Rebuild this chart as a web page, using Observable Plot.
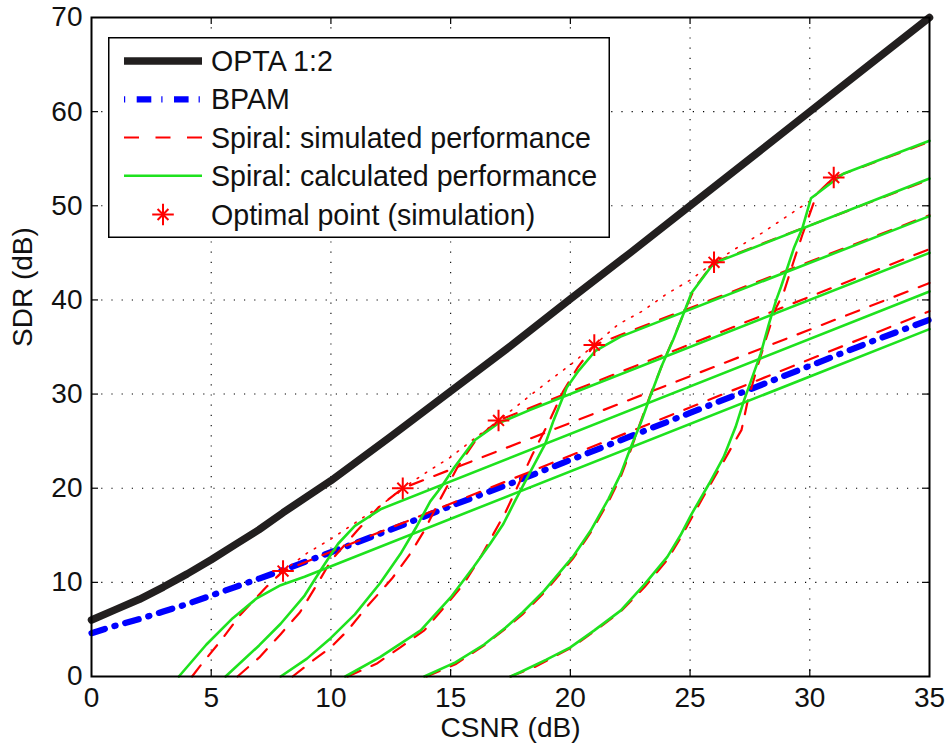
<!DOCTYPE html>
<html>
<head>
<meta charset="utf-8">
<script src="https://cdn.jsdelivr.net/npm/d3@7"></script>
<script src="https://cdn.jsdelivr.net/npm/@observablehq/plot@0.6"></script>
<style>
  body { margin: 0; background: #fff; }
  #wrap { position: relative; width: 949px; height: 749px; font-family: "Liberation Sans", Arial, sans-serif; }
  #legend { position: absolute; left: 108px; top: 37px; }
</style>
</head>
<body>
<div id="wrap"></div>
<script>
// ---- data ----
const xTicks = [0, 5, 10, 15, 20, 25, 30, 35];
const yTicks = [0, 10, 20, 30, 40, 50, 60, 70];

const optaCSNR = [0, 1, 2, 3, 4, 5, 6, 7, 8, 9, 10, 12.5, 15, 17.5, 20, 22.5, 25, 27.5, 30, 32.5, 35];
const optaSDR  = [6.0, 7.1, 8.2, 9.5, 10.9, 12.4, 14.0, 15.6, 17.4, 19.1, 20.8, 25.5, 30.3, 35.1, 40.1, 45.0, 50.0, 55.0, 60.0, 65.0, 70.0];

const bpamCSNR = [0, 1, 2, 3, 4, 5, 6, 7, 8, 10, 12.5, 15, 17.5, 20, 22.5, 25, 27.5, 30, 32.5, 35];
const bpamSDR  = [4.6, 5.4, 6.1, 6.9, 7.7, 8.6, 9.5, 10.4, 11.3, 13.2, 15.6, 18.1, 20.5, 23.0, 25.5, 28.0, 30.5, 33.0, 35.5, 37.9];

const calc1 = [[3.65,0],[4.8,3.4],[5.9,6.2],[6.9,8.3],[7.9,9.7],[8.9,10.6],[35,36.9]];
const calc2 = [[5.6,0],[7.0,3.3],[7.9,5.6],[8.9,8.6],[9.65,11.6],[10.3,14.1],[11.0,16.0],[12.1,17.8],[35,40.9]];
const calc3 = [[7.9,0],[9.0,1.9],[10.0,4.1],[11.0,6.6],[12.05,9.9],[12.9,13.0],[13.55,15.8],[14.15,18.6],[14.6,20.1],[15.15,22.2],[16.0,25.1],[17.0,26.9],[18.3,28.3],[35,45.0]];
const calc4 = [[10.6,0],[12.05,2.05],[13.75,4.9],[15.0,8.4],[15.95,11.6],[16.65,14.1],[17.2,16.2],[17.7,18.7],[18.3,21.6],[18.95,24.7],[19.3,27.2],[19.85,30.7],[20.35,32.5],[21.05,34.6],[22.1,36.1],[35,48.9]];
const calc5 = [[13.9,0],[15.2,1.5],[16.4,3.4],[17.3,5.2],[18.0,6.8],[18.9,9.1],[20.1,12.7],[20.85,15.5],[21.6,18.9],[22.1,21.5],[22.5,24.2],[22.95,27.0],[23.3,29.5],[23.8,32.9],[24.3,35.8],[24.75,38.7],[25.05,40.7],[25.9,43.6],[26.3,44.2],[35,52.9]];
const calc6 = [[17.5,0],[17.9,0.45],[19.0,1.8],[20.0,3.1],[21.0,4.9],[22.1,7.0],[23.07,9.7],[24.05,12.7],[24.6,15.0],[25.05,17.2],[25.8,20.5],[26.4,23.3],[26.9,26.5],[27.25,29.3],[27.6,31.8],[27.95,34.3],[28.3,37.5],[28.6,40.0],[28.8,41.4],[29.35,45.6],[29.7,47.7],[30.05,50.8],[31.4,53.4],[35,56.9]];

const sim1 = [[4.2,0],[4.5,1.0],[5.4,3.8],[6.2,6.5],[7.3,9.5],[8.0,11.2],[35,38.8]];
const sim2 = [[6.1,0],[7.0,2.0],[7.9,4.5],[8.7,6.8],[9.45,9.9],[10.0,12.3],[11.1,15.5],[12.0,18.0],[13.0,20.0],[35,41.8]];
const sim3 = [[8.4,0],[9.2,1.6],[10.0,3.1],[10.7,4.9],[11.5,7.4],[12.55,10.4],[13.3,13.0],[13.9,15.5],[14.6,19.0],[15.3,22.3],[16.1,25.3],[17.0,27.2],[35,45.4]];
const sim4 = [[10.7,0],[11.9,1.35],[12.9,3.1],[13.9,4.9],[14.85,7.7],[15.55,9.85],[16.25,12.7],[16.8,15.2],[17.3,17.5],[17.8,20.2],[18.4,23.5],[19.1,27.0],[19.7,30.3],[20.3,32.8],[21.0,35.2],[35,49.0]];
const sim5 = [[14.0,0],[15.2,1.3],[16.4,3.3],[17.3,5.1],[18.0,6.6],[18.9,8.9],[20.1,12.5],[20.85,15.3],[21.6,18.6],[22.1,21.2],[22.5,23.9],[22.9,26.8],[23.35,30.0],[23.9,33.5],[24.4,36.5],[24.85,39.3],[25.2,41.3],[26.0,44.0],[35,52.8]];
const sim6 = [[17.5,0],[18.5,1.0],[20.0,3.0],[21.0,4.8],[22.1,6.9],[23.1,9.5],[24.05,12.4],[24.6,14.7],[25.1,17.0],[25.8,20.2],[26.3,22.4],[26.9,25.1],[27.15,26.2],[27.4,29.2],[27.8,32.8],[28.2,36.1],[28.6,39.2],[28.9,40.7],[29.3,43.9],[29.7,47.0],[30.3,51.3],[31.0,53.0],[35,56.8]];

const envelope = [[8,11.2],[9,13.1],[10,14.6],[11,16.3],[12,18.0],[13,20.0],[14,21.7],[15,23.3],[16,25.3],[17,27.2],[18,29.2],[19,31.2],[20,33.1],[21,35.2],[22,37.4],[23,38.8],[24,40.6],[25,42.1],[26,44.0],[27,45.6],[28,47.1],[29,48.8],[30,50.5],[31,53.0]];

const optimalCSNR = [8, 13, 17, 21, 26, 31];
const optimalSDR  = [11.2, 20.0, 27.2, 35.2, 44.0, 53.0];

const legendLabels = ["OPTA 1:2", "BPAM", "Spiral: simulated performance", "Spiral: calculated performance", "Optimal point (simulation)"];

// ---- styles ----
const C_OPTA = "#221f1f", C_BPAM = "#0000ff", C_SIM = "#ff0000", C_CALC = "#1ee21e";
const FONT = "Liberation Sans, Arial, Helvetica, sans-serif";

// ---- tables built from the arrays ----
const optaRows = optaCSNR.map((x, i) => ({x, y: optaSDR[i]}));
const bpamRows = bpamCSNR.map((x, i) => ({x, y: bpamSDR[i]}));
const toRows = (arrs) => arrs.flatMap((a, k) => a.map(([x, y]) => ({x, y, curve: k})));
const calcRows = toRows([calc1, calc2, calc3, calc4, calc5, calc6]);
const simRows = toRows([sim1, sim2, sim3, sim4, sim5, sim6]);
const envRows = envelope.map(([x, y]) => ({x, y}));
const optRows = optimalCSNR.map((x, i) => ({x, y: optimalSDR[i]}));

const W = 949, H = 749, ML = 91, MR = 20, MT = 17, MB = 73;
const FW = W - ML - MR, FH = H - MT - MB, TICK = 7;
const inner = a => a.slice(1, -1);

const chart = Plot.plot({
  width: W, height: H,
  marginLeft: ML, marginRight: MR, marginTop: MT, marginBottom: MB,
  style: {fontFamily: FONT, fontSize: "28px", color: "#111", background: "#fff", overflow: "visible"},
  x: {domain: [0, 35], label: null},
  y: {domain: [0, 70], label: null},
  marks: [
    Plot.ruleX(inner(xTicks), {x: d => d, stroke: "#000", strokeWidth: 1.1, strokeDasharray: "1.2,9"}),
    Plot.ruleY(inner(yTicks), {y: d => d, stroke: "#000", strokeWidth: 1.1, strokeDasharray: "1.2,9"}),
    Plot.line(optaRows, {x: "x", y: "y", stroke: C_OPTA, strokeWidth: 7.5}),
    Plot.line(bpamRows, {x: "x", y: "y", stroke: C_BPAM, strokeWidth: 6.2, strokeDasharray: "14,10,1.2,10"}),
    Plot.line(simRows, {x: "x", y: "y", z: "curve", stroke: C_SIM, strokeWidth: 2.2, strokeDasharray: "14,12"}),
    Plot.line(envRows, {x: "x", y: "y", stroke: C_SIM, strokeWidth: 1.6, strokeDasharray: "1.6,8"}),
    Plot.line(calcRows, {x: "x", y: "y", z: "curve", stroke: C_CALC, strokeWidth: 2.6}),
    Plot.dot(optRows, {x: "x", y: "y", symbol: "plus", r: 7, stroke: C_SIM, strokeWidth: 2}),
    Plot.dot(optRows, {x: "x", y: "y", symbol: "times", r: 5, stroke: C_SIM, strokeWidth: 2}),
    // inward ticks on all four sides
    Plot.ruleY(inner(yTicks), {y: d => d, insetRight: FW - TICK, stroke: "#000", strokeWidth: 1.2}),
    Plot.ruleY(inner(yTicks), {y: d => d, insetLeft: FW - TICK, stroke: "#000", strokeWidth: 1.2}),
    Plot.ruleX(inner(xTicks), {x: d => d, insetTop: FH - TICK, stroke: "#000", strokeWidth: 1.2}),
    Plot.ruleX(inner(xTicks), {x: d => d, insetBottom: FH - TICK, stroke: "#000", strokeWidth: 1.2}),
    Plot.axisX({ticks: xTicks, tickSize: 0, tickPadding: 11, fontSize: 28, tickFormat: d => String(d)}),
    Plot.axisY({ticks: yTicks, tickSize: 0, tickPadding: 9, fontSize: 28, tickFormat: d => String(d)}),
    Plot.frame({stroke: "#000", strokeWidth: 2}),
    Plot.text(["CSNR (dB)"], {frameAnchor: "bottom", dy: 60, fontSize: 28, fill: "#111"}),
    Plot.text(["SDR (dB)"], {frameAnchor: "left", dx: -68, rotate: -90, fontSize: 28, fill: "#111"})
  ]
});

const wrap = document.getElementById("wrap");
wrap.appendChild(chart);

// ---- legend overlay ----
const LW = 502, LH = 201;
const leg = d3.select(wrap).append("svg").attr("id", "legend")
  .attr("width", LW).attr("height", LH)
  .style("font-family", FONT);
leg.append("rect").attr("x", 0.75).attr("y", 0.75).attr("width", LW - 1.5).attr("height", LH - 1.5)
  .attr("fill", "#fff").attr("stroke", "#000").attr("stroke-width", 1.5);
const rowY = [24, 62.3, 100.5, 138.8, 177.5];
const x0 = 16, x1 = 94;
const ln = (y) => leg.append("line").attr("x1", x0).attr("x2", x1).attr("y1", y).attr("y2", y);
ln(rowY[0]).attr("stroke", C_OPTA).attr("stroke-width", 7.5);
ln(rowY[1]).attr("stroke", C_BPAM).attr("stroke-width", 6.2).attr("stroke-dasharray", "1.2,11.5,14.6,10");
ln(rowY[2]).attr("stroke", C_SIM).attr("stroke-width", 2.2).attr("stroke-dasharray", "15,16.5");
ln(rowY[3]).attr("stroke", C_CALC).attr("stroke-width", 2.6);
const sx = 55, sy = rowY[4];
leg.append("path").attr("transform", `translate(${sx},${sy})`)
  .attr("d", d3.symbol(d3.symbolPlus, Math.PI * 49)()).attr("fill", "none").attr("stroke", C_SIM).attr("stroke-width", 2);
leg.append("path").attr("transform", `translate(${sx},${sy})`)
  .attr("d", d3.symbol(d3.symbolTimes, Math.PI * 25)()).attr("fill", "none").attr("stroke", C_SIM).attr("stroke-width", 2);
legendLabels.forEach((t, i) => {
  leg.append("text").attr("x", 103).attr("y", rowY[i] + 10).attr("font-size", 28.6).attr("fill", "#111").text(t);
});
</script>
</body>
</html>
